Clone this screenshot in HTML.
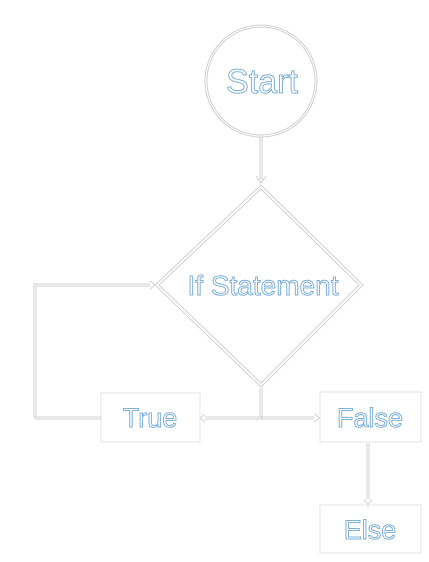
<!DOCTYPE html>
<html><head><meta charset="utf-8"><style>
html,body{margin:0;padding:0;background:#fff;width:429px;height:562px;overflow:hidden}
text{font-family:"Liberation Sans",sans-serif;fill:#fff;stroke:#7fb0d8;stroke-width:1}
.s{fill:none;stroke:#d0d0d0;stroke-width:1}
.b{fill:none;stroke:#e4e4e4;stroke-width:1}
</style></head><body>
<svg width="429" height="562" xmlns="http://www.w3.org/2000/svg">
<circle cx="261" cy="81" r="56" class="s"/>
<circle cx="261" cy="81" r="54" class="s"/>
<text x="262" y="93" font-size="34" text-anchor="middle">Start</text>
<path d="M260 137V180M262 137V180" class="s"/>
<path d="M256 176L261 183L266 176" class="s"/>
<path d="M261 185L363 285L261 387L155 285Z" class="s"/>
<path d="M261 189L359 285L261 383L159 285Z" class="s"/>
<text x="263" y="295" font-size="28" text-anchor="middle">If Statement</text>
<path d="M260 388V417H205M262 388V419H205" class="s"/>
<path d="M260 417H314M262 419H314" class="s"/>
<path d="M205 414L200 418L205 422M314 414L320 418L314 422" class="s"/>
<rect x="101" y="393" width="99" height="49" class="b"/>
<text x="150" y="427" font-size="27" text-anchor="middle">True</text>
<rect x="320" y="392" width="101" height="50" class="b"/>
<text x="370" y="427" font-size="27" text-anchor="middle">False</text>
<path d="M101 417H34V284H150M101 419H36V286H150" class="s"/>
<path d="M150 281L155 285L150 289" class="s"/>
<path d="M367 443V499M369 443V499" class="s"/>
<path d="M364 499L368 505L372 499" class="s"/>
<rect x="320" y="505" width="101" height="48" class="b"/>
<text x="370" y="539" font-size="27" text-anchor="middle">Else</text>
</svg>
</body></html>
